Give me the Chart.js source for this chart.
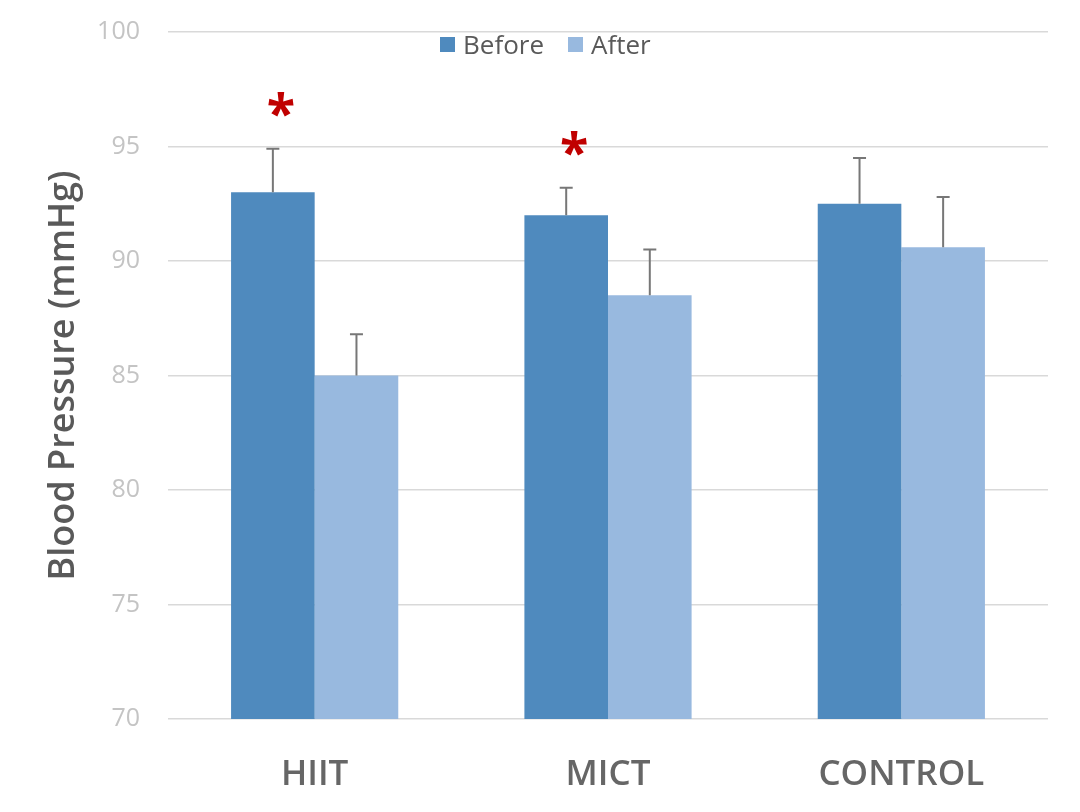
<!DOCTYPE html>
<html>
<head>
<meta charset="utf-8">
<script src="https://cdn.jsdelivr.net/npm/chart.js@4.4.1/dist/chart.umd.min.js"></script>
<style>
  html, body { margin: 0; padding: 0; background: #ffffff; }
  #wrap { position: relative; width: 1080px; height: 812px; }
  #legend {
    position: absolute; top: 26px; left: 440px;
    font-family: "Open Sans", sans-serif; font-size: 26px; color: #595959;
    display: flex; align-items: center; white-space: nowrap;
  }
  #legend .item { display: flex; align-items: center; margin-right: 24px; }
  #legend .box { width: 15px; height: 15px; margin-right: 8px; }
</style>
</head>
<body>
<div id="wrap">
  <canvas id="chart" width="1080" height="812"></canvas>
  <div id="legend">
    <div class="item"><span class="box" style="background:#4f8abe"></span>Before</div>
    <div class="item"><span class="box" style="background:#98b9df"></span>After</div>
  </div>
</div>
<script>
const groups = ["HIIT", "MICT", "CONTROL"];
const seriesNames = ["Before", "After"];
const beforeValues = [93.0, 92.0, 92.5];
const afterValues = [85.0, 88.5, 90.6];
const beforeErrors = [1.9, 1.2, 2.0];
const afterErrors = [1.8, 2.0, 2.2];
const significant = [true, true, false];
const yTicks = [70, 75, 80, 85, 90, 95, 100];

// upward error bars plus the red asterisks over the "Before" bars
const errorBarPlugin = {
  id: "errorBars",
  afterDatasetsDraw(chart) {
    const ctx = chart.ctx;
    const yScale = chart.scales.y;
    const errs = [beforeErrors, afterErrors];
    ctx.save();
    chart.data.datasets.forEach((ds, d) => {
      const meta = chart.getDatasetMeta(d);
      meta.data.forEach((bar, i) => {
        const top = yScale.getPixelForValue(ds.data[i] + errs[d][i]);
        ctx.strokeStyle = "#777777";
        ctx.lineWidth = 2;
        ctx.beginPath();
        ctx.moveTo(bar.x, bar.y);
        ctx.lineTo(bar.x, top);
        ctx.moveTo(bar.x - 6.5, top);
        ctx.lineTo(bar.x + 6.5, top);
        ctx.stroke();

        if (d === 0 && significant[i]) {
          ctx.font = "bold 52px 'Open Sans'";
          ctx.fillStyle = "#c00000";
          ctx.textAlign = "center";
          ctx.textBaseline = "alphabetic";
          const m = ctx.measureText("*");
          const mid = (m.actualBoundingBoxAscent - m.actualBoundingBoxDescent) / 2;
          ctx.fillText("*", bar.x + 8, top - 44 + mid);
        }
      });
    });
    ctx.restore();
  }
};

new Chart(document.getElementById("chart"), {
  type: "bar",
  data: {
    labels: groups,
    datasets: [
      { label: seriesNames[0], data: beforeValues, backgroundColor: "#4f8abe" },
      { label: seriesNames[1], data: afterValues, backgroundColor: "#98b9df" }
    ]
  },
  options: {
    responsive: false,
    animation: false,
    devicePixelRatio: 1,
    layout: { padding: { top: 32, right: 32, left: 42, bottom: 0 } },
    datasets: { bar: { categoryPercentage: 0.57, barPercentage: 1.0 } },
    scales: {
      x: {
        grid: { display: false },
        border: { display: false },
        ticks: {
          color: "#666666",
          font: { family: "Open Sans", size: 35, weight: "600" },
          padding: 27
        },
        afterFit(scale) { scale.height = 93; }
      },
      y: {
        min: 70,
        max: 100,
        afterBuildTicks(scale) { scale.ticks = yTicks.map(v => ({ value: v })); },
        grid: { color: "#d9d9d9", lineWidth: 1.5, drawTicks: false },
        border: { display: false },
        ticks: {
          color: "#c4c4c4",
          font: { family: "Open Sans", size: 25 },
          padding: 28
        },
        title: {
          display: true,
          text: "Blood Pressure (mmHg)",
          color: "#595959",
          font: { family: "Open Sans", size: 36, weight: "600" },
          padding: 0
        },
        afterFit(scale) {
          scale.width = 126;
          scale.paddingTop = 0;
          scale.paddingBottom = 0;
        }
      }
    },
    plugins: {
      legend: { display: false },
      tooltip: { enabled: false }
    }
  },
  plugins: [errorBarPlugin]
});
</script>
</body>
</html>
